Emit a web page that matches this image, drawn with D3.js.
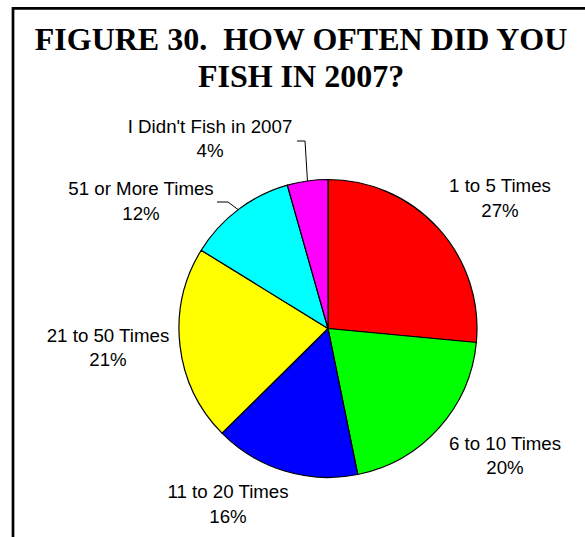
<!DOCTYPE html>
<html>
<head>
<meta charset="utf-8">
<script src="https://cdn.jsdelivr.net/npm/d3@7/dist/d3.min.js"></script>
<style>
    body { margin: 0; background: #fff; }
    .c-label { font-family: "Liberation Sans", Arial, sans-serif; font-size: 18.7px; fill: #000; }
    .c-title { font-family: "Liberation Serif", "Times New Roman", serif; font-weight: bold; font-size: 32px; fill: #000; }
</style>
</head>
<body>
<div id="c-chart"></div>
<script>
    // DATA
    var categories = ["1 to 5 Times", "6 to 10 Times", "11 to 20 Times", "21 to 50 Times", "51 or More Times", "I Didn't Fish in 2007"];
    var shares = [26.5, 20.3, 15.8, 21.2, 11.8, 4.4];
    var percentLabels = ["27%", "20%", "16%", "21%", "12%", "4%"];
    var titleLines = ["FIGURE 30.\u00a0 HOW OFTEN DID YOU", "FISH IN 2007?"];

    // STYLE / LAYOUT
    var sliceColors = ["#ff0000", "#00ff00", "#0000ff", "#ffff00", "#00ffff", "#ff00ff"];
    var width = 585, height = 537;
    var cx = 328, cy = 328.5, radius = 149;
    // label centre x and first baseline, relative to the pie centre
    var labelOffsets = [[172, -136.5], [177, 121], [-100, 169.5], [-220, 13], [-187, -133.5], [-118, -196]];
    // leader lines: slice index, elbow and end, relative to the pie centre
    var leaders = [
        { i: 4, elbow: [-100, -126.5], end: [-111, -126.5] },
        { i: 5, elbow: [-23, -187.5], end: [-31, -187.5] }
    ];

    var svg = d3.select("#c-chart").append("svg")
        .attr("width", width)
        .attr("height", height);

    // frame (top and left only)
    svg.append("path")
        .attr("d", "M13," + height + " V8.3 H" + width)
        .attr("fill", "none")
        .attr("stroke", "#000")
        .attr("stroke-width", 2.7);

    svg.selectAll(".c-title")
        .data(titleLines)
        .enter().append("text")
        .attr("class", "c-title")
        .attr("x", 301)
        .attr("y", function(d, i) { return 50 + i * 37; })
        .attr("text-anchor", "middle")
        .text(function(d) { return d; });

    var pie = d3.pie().sort(null).value(function(d) { return d; });
    var arcs = pie(shares);
    var arc = d3.arc().innerRadius(0).outerRadius(radius);

    var g = svg.append("g").attr("transform", "translate(" + cx + "," + cy + ")");

    g.selectAll("path.slice")
        .data(arcs)
        .enter().append("path")
        .attr("class", "slice")
        .attr("d", arc)
        .attr("fill", function(d, i) { return sliceColors[i]; })
        .attr("stroke", "#000")
        .attr("stroke-width", 1.2)
        .attr("stroke-linejoin", "round");

    // leader lines
    leaders.forEach(function(l) {
        var a = arcs[l.i],
            mid = (a.startAngle + a.endAngle) / 2,
            p = [radius * Math.sin(mid), -radius * Math.cos(mid)];
        g.append("path")
            .attr("d", d3.line()([p, l.elbow, l.end]))
            .attr("fill", "none")
            .attr("stroke", "#000")
            .attr("stroke-width", 1);
    });

    var labels = g.selectAll("text.c-label")
        .data(arcs)
        .enter().append("text")
        .attr("class", "c-label")
        .attr("text-anchor", "middle");

    labels.append("tspan")
        .attr("x", function(d, i) { return labelOffsets[i][0]; })
        .attr("y", function(d, i) { return labelOffsets[i][1]; })
        .text(function(d, i) { return categories[i]; });

    labels.append("tspan")
        .attr("x", function(d, i) { return labelOffsets[i][0]; })
        .attr("y", function(d, i) { return labelOffsets[i][1] + 24.5; })
        .text(function(d, i) { return percentLabels[i]; });
</script>
</body>
</html>
